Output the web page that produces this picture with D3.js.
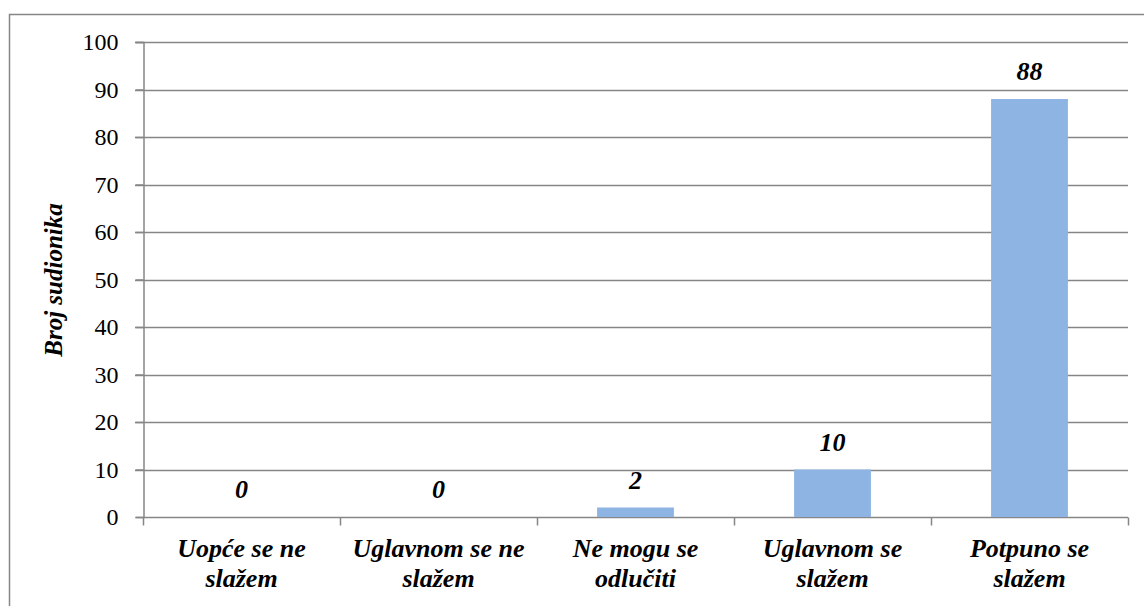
<!DOCTYPE html>
<html>
<head>
<meta charset="utf-8">
<script src="https://cdn.jsdelivr.net/npm/d3@7"></script>
<style>
  body { margin: 0; background: #fff; }
</style>
</head>
<body>
<div id="chart"></div>
<script>
// chart data
var categories = [["Uopće se ne", "slažem"], ["Uglavnom se ne", "slažem"], ["Ne mogu se", "odlučiti"], ["Uglavnom se", "slažem"], ["Potpuno se", "slažem"]];
var values = [0, 0, 2, 10, 88];
var yTicks = [0, 10, 20, 30, 40, 50, 60, 70, 80, 90, 100];
var yTitle = "Broj sudionika";

var FONT = "'Liberation Serif'";
var W = 1144, H = 606;
var margin = {left: 143, right: 16, top: 42, bottom: 89};

var svg = d3.select("#chart").append("svg")
    .attr("width", W).attr("height", H);

// outer chart border
svg.append("rect")
    .attr("x", 9.5).attr("y", 14.5)
    .attr("width", W + 20).attr("height", H + 20)
    .style("fill", "none").style("stroke", "#868686").style("stroke-width", 1.5);

var x = d3.scaleBand()
    .domain(d3.range(values.length))
    .range([margin.left, W - margin.right])
    .paddingInner(0.61).paddingOuter(0.305);

var xCat = d3.scaleBand()
    .domain(d3.range(values.length))
    .range([margin.left, W - margin.right]);

var y = d3.scaleLinear().domain([0, 100]).range([H - margin.bottom, margin.top]);

// gridlines
svg.append("g").selectAll("line").data(yTicks.filter(function(d){ return d > 0; }))
  .enter().append("line")
    .attr("x1", margin.left - 8).attr("x2", W - margin.right)
    .attr("y1", function(d){ return Math.round(y(d)) + 0.5; })
    .attr("y2", function(d){ return Math.round(y(d)) + 0.5; })
    .style("stroke", "#868686").style("stroke-width", 1.5);

// y axis
var yAxis = svg.append("g")
    .attr("transform", "translate(" + (margin.left + 0.5) + ",0)")
    .call(d3.axisLeft(y).tickValues(yTicks).tickSize(8).tickPadding(17));
yAxis.attr("font-family", null).attr("font-size", null);
yAxis.selectAll("line, path").style("stroke", "#868686").style("stroke-width", 1.5);
yAxis.selectAll("text")
    .style("font-family", FONT).style("font-size", "24px").style("fill", "#000");

// x axis
var xAxisG = svg.append("g")
    .attr("transform", "translate(0," + (Math.round(y(0)) + 0.5) + ")");
xAxisG.append("line")
    .attr("x1", margin.left).attr("x2", W - margin.right)
    .style("stroke", "#868686").style("stroke-width", 1.5);
xAxisG.selectAll(".tk").data(d3.range(values.length + 1))
  .enter().append("line").attr("class", "tk")
    .attr("x1", function(d){ return Math.round(margin.left + d * xCat.step()) + 0.5; })
    .attr("x2", function(d){ return Math.round(margin.left + d * xCat.step()) + 0.5; })
    .attr("y1", 0).attr("y2", 8)
    .style("stroke", "#868686").style("stroke-width", 1.5);

// category labels
var lab = svg.append("g").selectAll("text").data(categories)
  .enter().append("text")
    .attr("text-anchor", "middle")
    .style("font-family", FONT)
    .style("font-size", "26px").style("font-weight", "bold").style("font-style", "italic");
lab.each(function(d, i) {
  var t = d3.select(this);
  d.forEach(function(line, j) {
    t.append("tspan")
      .attr("x", xCat(i) + xCat.bandwidth() / 2)
      .attr("y", 557 + j * 30)
      .text(line);
  });
});

// bars
svg.append("g").selectAll("rect").data(values)
  .enter().append("rect")
    .attr("x", function(d, i){ return x(i); })
    .attr("width", x.bandwidth())
    .attr("y", function(d){ return y(d); })
    .attr("height", function(d){ return y(0) - y(d); })
    .style("fill", "#8EB4E3");

// value labels
svg.append("g").selectAll("text").data(values)
  .enter().append("text")
    .attr("x", function(d, i){ return x(i) + x.bandwidth() / 2; })
    .attr("y", function(d){ return y(d) - 19; })
    .attr("text-anchor", "middle")
    .style("font-family", FONT)
    .style("font-size", "26px").style("font-weight", "bold").style("font-style", "italic")
    .text(function(d){ return d; });

// y title
svg.append("text")
    .attr("transform", "translate(62,280) rotate(-90)")
    .attr("text-anchor", "middle")
    .style("font-family", FONT)
    .style("font-size", "25px").style("font-weight", "bold").style("font-style", "italic")
    .text(yTitle);
</script>
</body>
</html>
